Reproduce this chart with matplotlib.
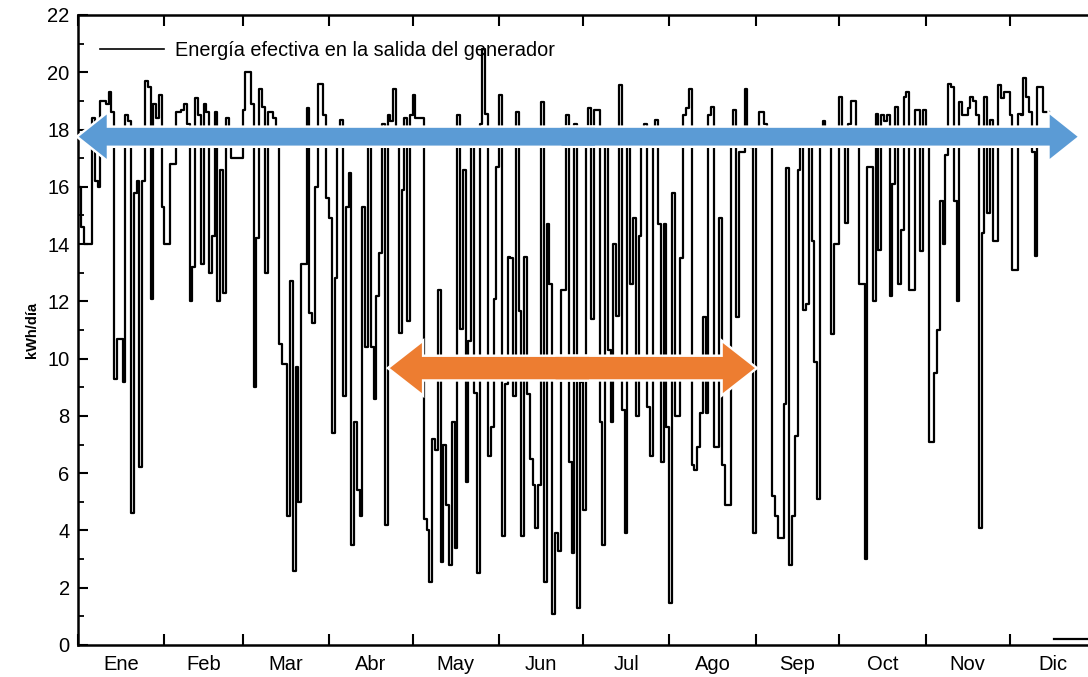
import numpy as np
import matplotlib
matplotlib.use("Agg")
import matplotlib.pyplot as plt
from matplotlib.patches import FancyArrow

plt.rcParams['font.family'] = ['Liberation Sans', 'DejaVu Sans']

# Daily effective energy at the generator output (kWh/day), one list per month
ene = [16.0, 14.6, 14.0, 14.0, 14.0, 18.4, 16.2, 16.0, 19.0, 19.0, 18.9, 19.3, 18.6, 9.3, 10.7,
       10.7, 9.2, 18.5, 18.3, 4.6, 15.8, 16.2, 6.2, 16.2, 19.7, 19.5, 12.1, 18.9, 18.4, 19.2, 15.3]
feb = [14.0, 14.0, 16.8, 16.8, 18.6, 18.6, 18.7, 18.9, 18.2, 12.0, 13.2, 19.1, 18.5, 13.3,
       18.9, 18.6, 13.0, 14.3, 18.6, 12.0, 16.6, 12.3, 18.4, 18.0, 17.0, 17.0, 17.0, 17.0]
mar = [18.7, 20.0, 20.0, 18.9, 9.0, 14.2, 19.4, 18.8, 13.0, 18.6, 18.6, 18.4, 18.0, 10.5, 9.8,
       9.8, 4.5, 12.7, 2.6, 9.7, 5.0, 13.3, 13.3, 18.75, 11.6, 11.25, 16.0, 19.6, 19.6, 18.5, 15.6]
abr = [14.9, 7.4, 12.8, 18.0, 18.35, 8.7, 15.3, 16.5, 3.5, 7.8, 5.4, 4.5, 15.3, 10.4, 18.0,
       10.4, 8.6, 12.2, 13.7, 18.2, 4.2, 18.5, 18.3, 19.4, 18.0, 10.9, 15.9, 18.4, 11.3, 18.5]
may = [19.2, 18.4, 18.4, 18.4, 4.4, 4.0, 2.2, 7.2, 6.8, 12.4, 2.9, 7.0, 4.9, 2.8, 7.8, 3.4,
       18.5, 11.05, 16.6, 5.7, 10.6, 18.0, 8.8, 2.5, 18.2, 20.8, 18.55, 6.6, 7.6, 12.1, 16.7]
jun = [19.2, 3.8, 9.1, 13.55, 13.5, 8.7, 18.6, 11.65, 3.8, 13.55, 8.75, 6.5, 5.6, 4.1, 5.6,
       18.95, 2.2, 14.7, 12.6, 1.1, 3.9, 3.3, 12.4, 12.4, 18.5, 6.4, 3.2, 18.2, 1.3, 9.2]
jul = [4.7, 18.0, 18.75, 11.4, 18.7, 18.7, 7.8, 3.5, 18.0, 10.3, 7.8, 14.0, 11.5, 19.55, 8.2,
       3.9, 18.0, 12.6, 14.9, 8.0, 14.3, 18.0, 18.2, 8.3, 6.6, 18.0, 18.35, 14.7, 6.4, 14.7, 7.6]
ago = [1.45, 15.8, 8.0, 8.0, 13.5, 18.5, 18.75, 19.4, 6.3, 6.1, 6.9, 8.1, 11.45, 8.1, 18.5,
       18.8, 6.9, 6.9, 14.9, 6.3, 4.9, 4.9, 18.0, 18.7, 11.45, 17.2, 17.2, 19.4, 18.0, 17.4, 3.9]
sep = [18.0, 18.6, 18.6, 18.2, 18.0, 18.0, 5.2, 4.5, 3.75, 3.75, 8.4, 16.65, 2.8, 4.5, 7.3,
       16.6, 18.0, 11.7, 11.9, 18.0, 14.1, 9.9, 5.1, 18.0, 18.3, 18.0, 18.0, 10.85, 14.0, 14.0]
octu = [19.15, 18.0, 14.75, 18.2, 19.0, 19.0, 18.0, 12.6, 12.6, 3.0, 16.7, 16.7, 12.0, 18.55,
        13.8, 18.5, 18.3, 18.5, 12.2, 16.1, 18.8, 12.6, 14.5, 19.15, 19.3, 12.4, 12.4, 18.7,
        18.7, 13.75, 18.7]
nov = [18.0, 7.1, 7.1, 9.5, 11.0, 15.5, 14.0, 17.1, 19.6, 19.5, 15.5, 12.0, 18.95, 18.5, 18.5,
       18.75, 19.15, 19.0, 18.5, 4.1, 14.4, 19.15, 15.1, 18.35, 14.1, 14.1, 19.55, 19.1, 19.3, 19.3]
dic = [18.5, 13.1, 13.1, 18.55, 18.5, 19.8, 19.15, 18.6, 17.2, 13.6, 19.5, 19.5, 18.6, 18.6,
       np.nan, np.nan] + [0.2] * 15

month_labels = ["Ene", "Feb", "Mar", "Abr", "May", "Jun",
                "Jul", "Ago", "Sep", "Oct", "Nov", "Dic"]
month_days = [31, 28, 31, 30, 31, 30, 31, 31, 30, 31, 30, 31]
series_label = "Energía efectiva en la salida del generador"

values = np.array(ene + feb + mar + abr + may + jun + jul + ago + sep + octu + nov + dic, dtype=float)
days = np.arange(len(values) + 1)
vals_step = np.append(values, values[-1])

W, H = 1088, 677
fig = plt.figure(figsize=(W / 100, H / 100), dpi=100)
ax = fig.add_axes([78 / W, 32 / H, 1018 / W, 630 / H])

ax.step(days, vals_step, where="post", color="black", lw=1.6, label=series_label, zorder=3)

ax.set_xlim(0, 365)
ax.set_ylim(0, 22)

# month boundaries as ticks, month names centred in each month
edges = np.concatenate([[0], np.cumsum(month_days)])
centers = (edges[:-1] + edges[1:]) / 2
ax.set_xticks(edges[:-1])
ax.set_xticklabels([])
ax.set_xticks(centers, minor=True)
ax.set_xticklabels(month_labels, minor=True)
ax.tick_params(axis="x", which="major", direction="in", length=8, width=1.5,
               top=True, bottom=True)
ax.tick_params(axis="x", which="minor", length=0, pad=7, labelsize=14.5)

ax.set_yticks(np.arange(0, 23, 2))
ax.set_yticks(np.arange(1, 22, 2), minor=True)
ax.tick_params(axis="y", which="major", direction="in", length=7, width=1.5,
               labelsize=14.5, pad=6, left=True, right=False)
ax.tick_params(axis="y", which="minor", direction="in", length=4, width=1.3,
               left=True, right=False)

for side in ("left", "bottom", "top"):
    ax.spines[side].set_linewidth(1.8)
ax.spines["right"].set_visible(False)

ax.set_ylabel("kWh/día", fontsize=10.5, fontweight="bold")
ax.yaxis.set_label_coords(-0.038, 0.5)

leg = ax.legend(loc="center left", bbox_to_anchor=(0.0216, 0.944), frameon=False,
                fontsize=14.3, handlelength=3.2, handletextpad=0.6,
                borderpad=0, borderaxespad=0)
for h in leg.get_lines():
    h.set_linewidth(1.2)


def double_arrow(x0, x1, y, body, head_w, head_l, color):
    # two overlapping halves so the outline never shows in the middle
    mid = (x0 + x1) / 2
    halves = []
    for start, end in ((mid + 6, x0), (mid - 6, x1)):
        halves.append(dict(x=start, y=y, dx=end - start, dy=0, width=body,
                           head_width=head_w, head_length=head_l,
                           length_includes_head=True))
    for kw in halves:
        ax.add_patch(FancyArrow(**kw, facecolor=color, edgecolor="white", lw=3.5,
                                zorder=5, clip_on=False))
    for kw in halves:
        ax.add_patch(FancyArrow(**kw, facecolor=color, edgecolor="none",
                                zorder=6, clip_on=False))


double_arrow(0.3, 358.4, 17.75, 0.62, 1.55, 10.0, "#5B9BD5")
double_arrow(111.8, 242.7, 9.67, 0.78, 1.75, 11.5, "#ED7D31")

fig.savefig("out.png", dpi=100)
